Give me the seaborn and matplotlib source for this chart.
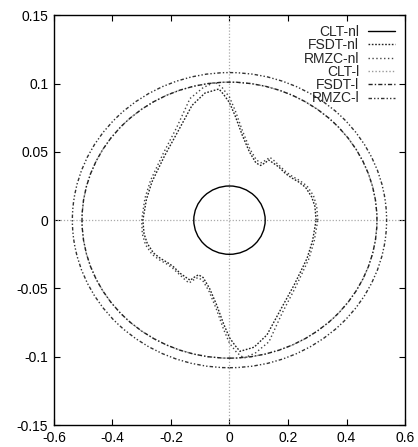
import matplotlib
matplotlib.use("Agg")
import matplotlib.pyplot as plt
from matplotlib.patches import Ellipse
from matplotlib.lines import Line2D
from matplotlib.ticker import FixedLocator, FixedFormatter
import seaborn as sns
import pandas as pd

# ---- data ----
series_names = ["CLT-nl", "FSDT-nl", "RMZC-nl", "CLT-l", "FSDT-l", "RMZC-l"]

# elliptical envelopes (semi-axis x, semi-axis y)
clt_nl_radii = (0.122, 0.025)
clt_l_radii = (0.504, 0.101)
fsdt_l_radii = (0.504, 0.101)
rmzc_l_radii = (0.537, 0.108)

# irregular nonlinear envelopes
rmzc_nl_x = [0.302, 0.298, 0.287, 0.265, 0.240, 0.215, 0.195, 0.170, 0.150, 0.138,
             0.125, 0.108, 0.092, 0.070, 0.045, 0.020, 0.000, -0.025, -0.050, -0.090,
             -0.135, -0.180, -0.226, -0.270, -0.289, -0.300,
             -0.298, -0.287, -0.265, -0.240, -0.215, -0.195, -0.170, -0.150, -0.138,
             -0.125, -0.108, -0.092, -0.070, -0.045, -0.020, 0.000, 0.025, 0.050, 0.090,
             0.135, 0.180, 0.226, 0.270, 0.289, 0.302]
rmzc_nl_y = [0.000, 0.010, 0.018, 0.025, 0.029, 0.032, 0.035, 0.040, 0.044, 0.046,
             0.044, 0.042, 0.044, 0.052, 0.065, 0.080, 0.090, 0.097, 0.101, 0.097,
             0.089, 0.068, 0.049, 0.029, 0.016, 0.000,
             -0.010, -0.018, -0.025, -0.029, -0.032, -0.035, -0.040, -0.044, -0.046,
             -0.044, -0.042, -0.044, -0.052, -0.065, -0.080, -0.090, -0.097, -0.101, -0.097,
             -0.089, -0.068, -0.049, -0.029, -0.016, 0.000]

fsdt_nl_x = [0.296, 0.292, 0.281, 0.260, 0.236, 0.212, 0.192, 0.168, 0.148, 0.134,
             0.122, 0.106, 0.090, 0.068, 0.044, 0.020, 0.000, -0.020, -0.036, -0.084,
             -0.128, -0.176, -0.222, -0.265, -0.284, -0.296,
             -0.292, -0.281, -0.260, -0.236, -0.212, -0.192, -0.168, -0.148, -0.134,
             -0.122, -0.106, -0.090, -0.068, -0.044, -0.020, 0.000, 0.020, 0.036, 0.084,
             0.128, 0.176, 0.222, 0.265, 0.284, 0.296]
fsdt_nl_y = [0.000, 0.010, 0.017, 0.024, 0.028, 0.031, 0.034, 0.039, 0.042, 0.044,
             0.042, 0.040, 0.042, 0.050, 0.062, 0.076, 0.086, 0.092, 0.096, 0.093,
             0.084, 0.065, 0.047, 0.028, 0.015, 0.000,
             -0.010, -0.017, -0.024, -0.028, -0.031, -0.034, -0.039, -0.042, -0.044,
             -0.042, -0.040, -0.042, -0.050, -0.062, -0.076, -0.086, -0.092, -0.096, -0.093,
             -0.084, -0.065, -0.047, -0.028, -0.015, 0.000]

x_ticks = [-0.6, -0.4, -0.2, 0.0, 0.2, 0.4, 0.6]
x_tick_labels = ["-0.6", "-0.4", "-0.2", "0", "0.2", "0.4", "0.6"]
y_ticks = [-0.15, -0.1, -0.05, 0.0, 0.05, 0.1, 0.15]
y_tick_labels = ["-0.15", "-0.1", "-0.05", "0", "0.05", "0.1", "0.15"]

# ---- styles ----
styles = {
    "CLT-nl": dict(color="#000000", lw=1.0, ls="-"),
    "FSDT-nl": dict(color="#222222", lw=1.0, ls=(0, (1.2, 1.2))),
    "RMZC-nl": dict(color="#444444", lw=1.0, ls=(0, (1.0, 1.8))),
    "CLT-l": dict(color="#999999", lw=1.0, ls=(0, (1.0, 1.5))),
    "FSDT-l": dict(color="#222222", lw=1.0, ls=(0, (3.0, 1.5, 1.0, 1.5))),
    "RMZC-l": dict(color="#333333", lw=1.0, ls=(0, (2.5, 1.5, 1.0, 1.5, 1.0, 1.5))),
}

sns.set_style("ticks")
plt.rcParams["font.family"] = ["Liberation Sans", "DejaVu Sans"]

fig = plt.figure(figsize=(4.18, 4.47), dpi=100)
ax = fig.add_axes([0.129, 0.049, 0.840, 0.917])

# zero axes
ax.axhline(0, color="#aaaaaa", lw=0.9, ls=(0, (1, 1.5)), zorder=1)
ax.axvline(0, color="#aaaaaa", lw=0.9, ls=(0, (1, 1.5)), zorder=1)

# elliptical envelopes
for name, (rx, ry) in [("CLT-nl", clt_nl_radii), ("CLT-l", clt_l_radii),
                       ("FSDT-l", fsdt_l_radii), ("RMZC-l", rmzc_l_radii)]:
    st = styles[name]
    e = Ellipse((0, 0), width=2 * rx, height=2 * ry, fill=False,
                edgecolor=st["color"], lw=st["lw"], linestyle=st["ls"], zorder=2)
    ax.add_patch(e)

# irregular envelopes
df_f = pd.DataFrame({"x": fsdt_nl_x, "y": fsdt_nl_y})
df_r = pd.DataFrame({"x": rmzc_nl_x, "y": rmzc_nl_y})
sns.lineplot(data=df_f, x="x", y="y", sort=False, estimator=None, ax=ax,
             color=styles["FSDT-nl"]["color"], lw=1.0, linestyle=styles["FSDT-nl"]["ls"])
sns.lineplot(data=df_r, x="x", y="y", sort=False, estimator=None, ax=ax,
             color=styles["RMZC-nl"]["color"], lw=1.0, linestyle=styles["RMZC-nl"]["ls"])

ax.set_xlim(-0.6, 0.6)
ax.set_ylim(-0.15, 0.15)
ax.xaxis.set_major_locator(FixedLocator(x_ticks))
ax.xaxis.set_major_formatter(FixedFormatter(x_tick_labels))
ax.yaxis.set_major_locator(FixedLocator(y_ticks))
ax.yaxis.set_major_formatter(FixedFormatter(y_tick_labels))
ax.set_xlabel("")
ax.set_ylabel("")
ax.tick_params(direction="in", length=4, width=0.8, top=True, right=True,
               labelsize=10, colors="black", pad=4)
for sp in ax.spines.values():
    sp.set_linewidth(1.0)
    sp.set_color("black")

handles = [Line2D([], [], color=styles[n]["color"], lw=styles[n]["lw"], ls=styles[n]["ls"])
           for n in series_names]
leg = ax.legend(handles, series_names, loc="upper right", frameon=False, markerfirst=False,
                fontsize=10, handlelength=2.0, handletextpad=0.6, labelspacing=-0.05,
                borderaxespad=0.3)

fig.savefig("out.png", dpi=100)
